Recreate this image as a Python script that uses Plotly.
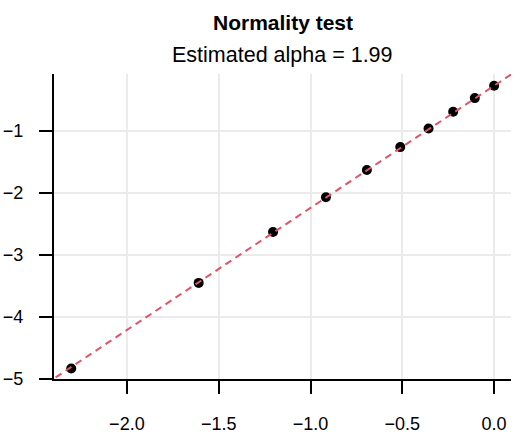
import plotly.graph_objects as go

# Data
x_vals = [-2.303, -1.609, -1.204, -0.916, -0.693, -0.511, -0.357, -0.223, -0.105, 0.0]
y_vals = [-4.83, -3.45, -2.63, -2.07, -1.63, -1.26, -0.96, -0.69, -0.47, -0.27]
line_intercept = -0.27
line_slope = 1.97
x_ticks = [-2.0, -1.5, -1.0, -0.5, 0.0]
x_ticklabels = ["\u22122.0", "\u22121.5", "\u22121.0", "\u22120.5", "0.0"]
y_ticks = [-5, -4, -3, -2, -1]
y_ticklabels = ["\u22125", "\u22124", "\u22123", "\u22122", "\u22121"]
title_text = "Normality test"
subtitle_text = "Estimated alpha = 1.99"

x_range = [-2.397, 0.092]
y_range = [-5.0, -0.081]

FONT = "Liberation Sans, Arial, Helvetica, sans-serif"

fig = go.Figure()
fig.add_trace(go.Scatter(
    x=x_vals, y=y_vals, mode="markers",
    marker=dict(color="black", size=10, line=dict(width=0)),
    showlegend=False, hoverinfo="skip"))
line_x = [x_range[0] - 0.1, x_range[1] + 0.1]
line_y = [line_intercept + line_slope * v for v in line_x]
fig.add_trace(go.Scatter(
    x=line_x, y=line_y, mode="lines",
    line=dict(color="#DF536B", width=2, dash="7px,5px"),
    showlegend=False, hoverinfo="skip", cliponaxis=True))

axis_common = dict(
    showline=True, linecolor="black", linewidth=2,
    ticks="outside", ticklen=13, tickwidth=2, tickcolor="black",
    showgrid=True, gridcolor="#EBEBEB", gridwidth=1.5,
    zeroline=False, automargin=False,
    tickfont=dict(family=FONT, size=18, color="black"),
)
fig.update_xaxes(range=x_range, tickvals=x_ticks, ticktext=x_ticklabels,
                 ticklabelstandoff=14, **axis_common)
fig.update_yaxes(range=y_range, tickvals=y_ticks, ticktext=y_ticklabels,
                 ticklabelstandoff=12, **axis_common)

fig.add_annotation(text="<b>" + title_text + "</b>", xref="paper", yref="paper",
                   x=0.5, y=1, yanchor="middle", yshift=52, showarrow=False,
                   font=dict(family=FONT, size=21, color="black"))
fig.add_annotation(text=subtitle_text, xref="paper", yref="paper",
                   x=0.5, y=1, yanchor="middle", yshift=19, showarrow=False,
                   font=dict(family=FONT, size=21.5, color="black"))

fig.update_layout(
    width=523, height=435,
    margin=dict(l=54, r=12, t=74, b=56),
    paper_bgcolor="white", plot_bgcolor="white",
)
fig.write_html("out.html", config={"displayModeBar": False},
               post_script="document.body.style.margin='0';document.body.style.overflow='hidden';")
